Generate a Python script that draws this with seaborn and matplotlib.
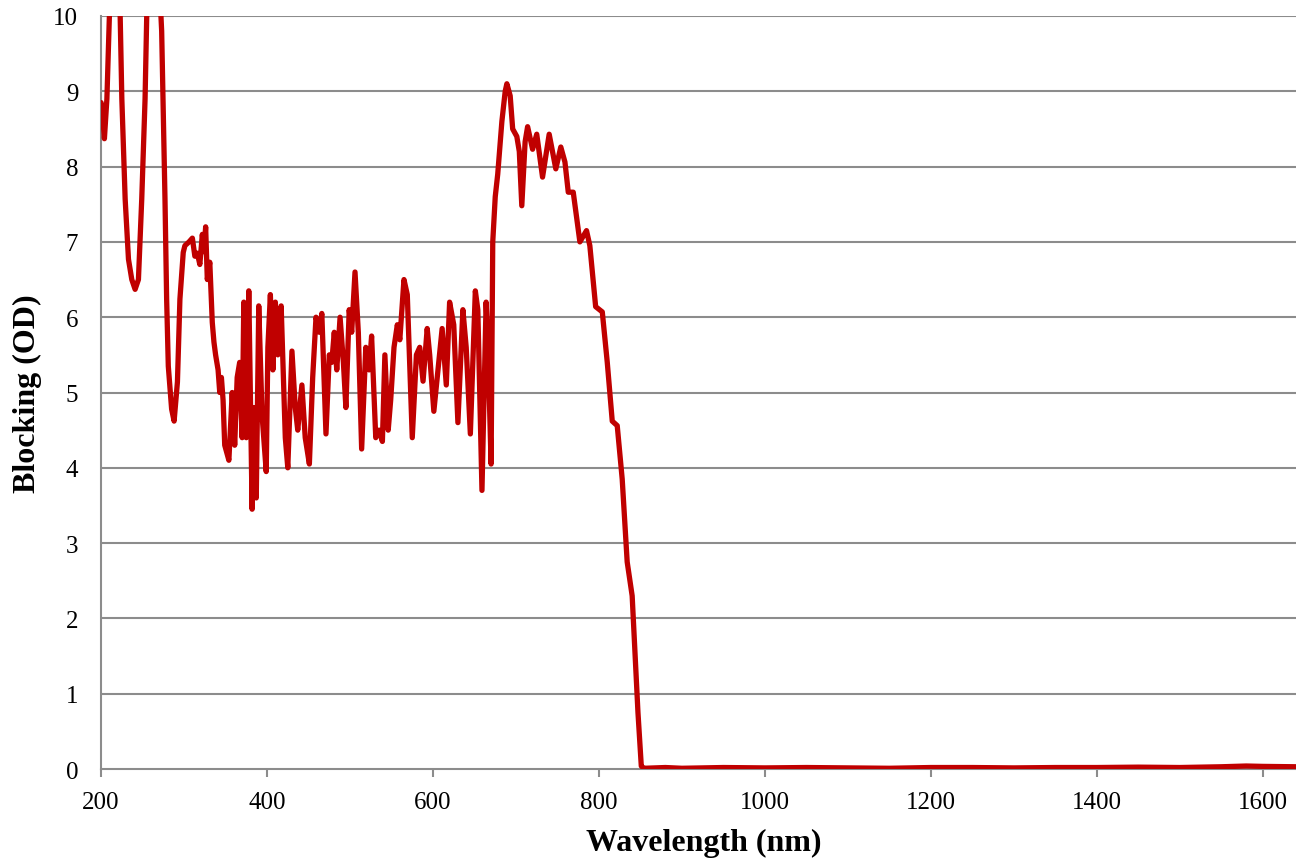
import numpy as np
import pandas as pd
import matplotlib
matplotlib.use("Agg")
import matplotlib.pyplot as plt
import seaborn as sns

# ---- data ----
wavelength = [
    200, 201, 204, 207, 210, 213, 217, 220, 223, 225, 229, 233, 237, 241, 245, 249,
    253, 255, 259, 263, 267, 270, 273, 277, 279, 281, 285, 288, 292, 295, 299, 301,
    306, 310, 313, 316, 319, 322, 324, 326, 328, 331, 334, 336, 338, 341, 343, 345,
    347, 349, 354, 358, 361, 364, 367, 370, 372, 375, 378, 382, 384, 387, 390, 394,
    399, 401, 404, 407, 410, 413, 417, 422, 425, 430, 434, 437, 442, 446, 451, 455,
    459, 463, 466, 471, 475, 478, 481, 484, 488, 492, 495, 499, 502, 506, 510, 514,
    519, 523, 526, 531, 535, 539, 542, 546, 549, 553, 557, 560, 565, 569, 575, 580,
    584, 588, 593, 596, 601, 606, 611, 616, 620, 625, 630, 636, 640, 645, 651, 654,
    659, 664, 666, 670, 672, 675, 678, 683, 687, 689, 693, 696, 701, 704, 707, 711,
    714, 720, 725, 732, 740, 748, 754, 759, 763, 769, 777, 785, 789, 796, 804, 810,
    816, 822, 828, 834, 840, 843, 847, 851, 853, 855, 880, 900, 950, 1000, 1050, 1100,
    1150, 1200, 1250, 1300, 1350, 1400, 1450, 1500, 1550, 1580, 1600, 1640,
]
blocking_od = [
    8.85, 8.8, 8.37, 8.9, 10.0, 10.8, 11.0, 10.7, 10.0, 8.9, 7.57, 6.77, 6.5, 6.37, 6.5, 7.57,
    8.9, 10.0, 10.9, 11.2, 11.0, 10.5, 9.8, 7.57, 6.24, 5.35, 4.78, 4.62, 5.14, 6.24, 6.86, 6.95,
    7.0, 7.05, 6.81, 6.85, 6.7, 7.1, 6.87, 7.2, 6.5, 6.73, 5.93, 5.67, 5.5, 5.3, 5.0, 5.2,
    4.9, 4.3, 4.1, 5.0, 4.3, 5.2, 5.4, 4.4, 6.2, 4.4, 6.35, 3.45, 4.8, 3.6, 6.15, 4.7,
    3.95, 5.6, 6.3, 5.3, 6.2, 5.5, 6.15, 4.4, 4.0, 5.55, 4.8, 4.5, 5.1, 4.4, 4.05, 5.2,
    6.0, 5.8, 6.05, 4.45, 5.5, 5.4, 5.8, 5.3, 6.0, 5.4, 4.8, 6.1, 5.8, 6.6, 5.8, 4.25,
    5.6, 5.3, 5.75, 4.4, 4.5, 4.35, 5.5, 4.5, 4.9, 5.6, 5.9, 5.7, 6.5, 6.3, 4.4, 5.5,
    5.6, 5.15, 5.85, 5.5, 4.75, 5.3, 5.85, 5.1, 6.2, 5.9, 4.6, 6.1, 5.6, 4.45, 6.35, 6.1,
    3.7, 6.2, 5.7, 4.05, 7.0, 7.6, 7.9, 8.6, 9.0, 9.1, 8.94, 8.5, 8.4, 8.2, 7.48, 8.33,
    8.53, 8.23, 8.43, 7.86, 8.43, 7.97, 8.26, 8.06, 7.66, 7.66, 7.0, 7.15, 6.95, 6.14, 6.07, 5.4,
    4.62, 4.56, 3.85, 2.75, 2.3, 1.63, 0.75, 0.04, 0.02, 0.01, 0.02, 0.01, 0.02, 0.015, 0.02, 0.015,
    0.01, 0.02, 0.02, 0.015, 0.02, 0.02, 0.025, 0.02, 0.03, 0.04, 0.035, 0.03,
]
x_ticks = [200, 400, 600, 800, 1000, 1200, 1400, 1600]
y_ticks = list(range(0, 11))

df = pd.DataFrame({"Wavelength": wavelength, "Blocking": blocking_od})

sns.set_style("white")
plt.rcParams["font.family"] = ["Liberation Serif", "DejaVu Serif"]
plt.rcParams["text.color"] = "black"
plt.rcParams["axes.labelcolor"] = "black"
plt.rcParams["xtick.color"] = "black"
plt.rcParams["ytick.color"] = "black"

fig = plt.figure(figsize=(12.96, 8.62), dpi=100)
ax = fig.add_axes([0.078, 0.1067, 0.922, 0.8736])

grid_col = "#8c8c8c"
for yv in y_ticks[1:]:
    ax.axhline(yv, color=grid_col, linewidth=1.5, zorder=1)

sns.lineplot(data=df, x="Wavelength", y="Blocking", color="#C00000", linewidth=3.8,
             sort=False, estimator=None, ax=ax, zorder=3)
for ln in ax.get_lines():
    ln.set_solid_joinstyle("round")
    ln.set_solid_capstyle("round")

ax.set_xlim(200, 1640)
ax.set_ylim(0, 10)
ax.set_xticks(x_ticks)
ax.set_yticks(y_ticks)
ax.set_xticklabels([str(t) for t in x_ticks])
ax.set_yticklabels([str(t) for t in y_ticks])

for side in ["top", "right"]:
    ax.spines[side].set_visible(False)
for side in ["left", "bottom"]:
    ax.spines[side].set_color(grid_col)
    ax.spines[side].set_linewidth(1.5)

ax.tick_params(axis="x", direction="out", length=6, width=1.5, color=grid_col,
               labelcolor="black", labelsize=18, pad=10, bottom=True)
ax.tick_params(axis="y", length=0, labelsize=18, pad=16.5, left=False, labelcolor="black")

ax.set_xlabel("Wavelength (nm)", fontsize=23, fontweight="bold", color="black")
ax.set_ylabel("Blocking (OD)", fontsize=23, fontweight="bold", color="black")
ax.xaxis.set_label_coords(0.504, -0.097)
ax.yaxis.set_label_coords(-0.062, 0.5)
ax.xaxis.label.set_va("center")
ax.yaxis.label.set_va("center")

fig.savefig("out.png", dpi=100)
